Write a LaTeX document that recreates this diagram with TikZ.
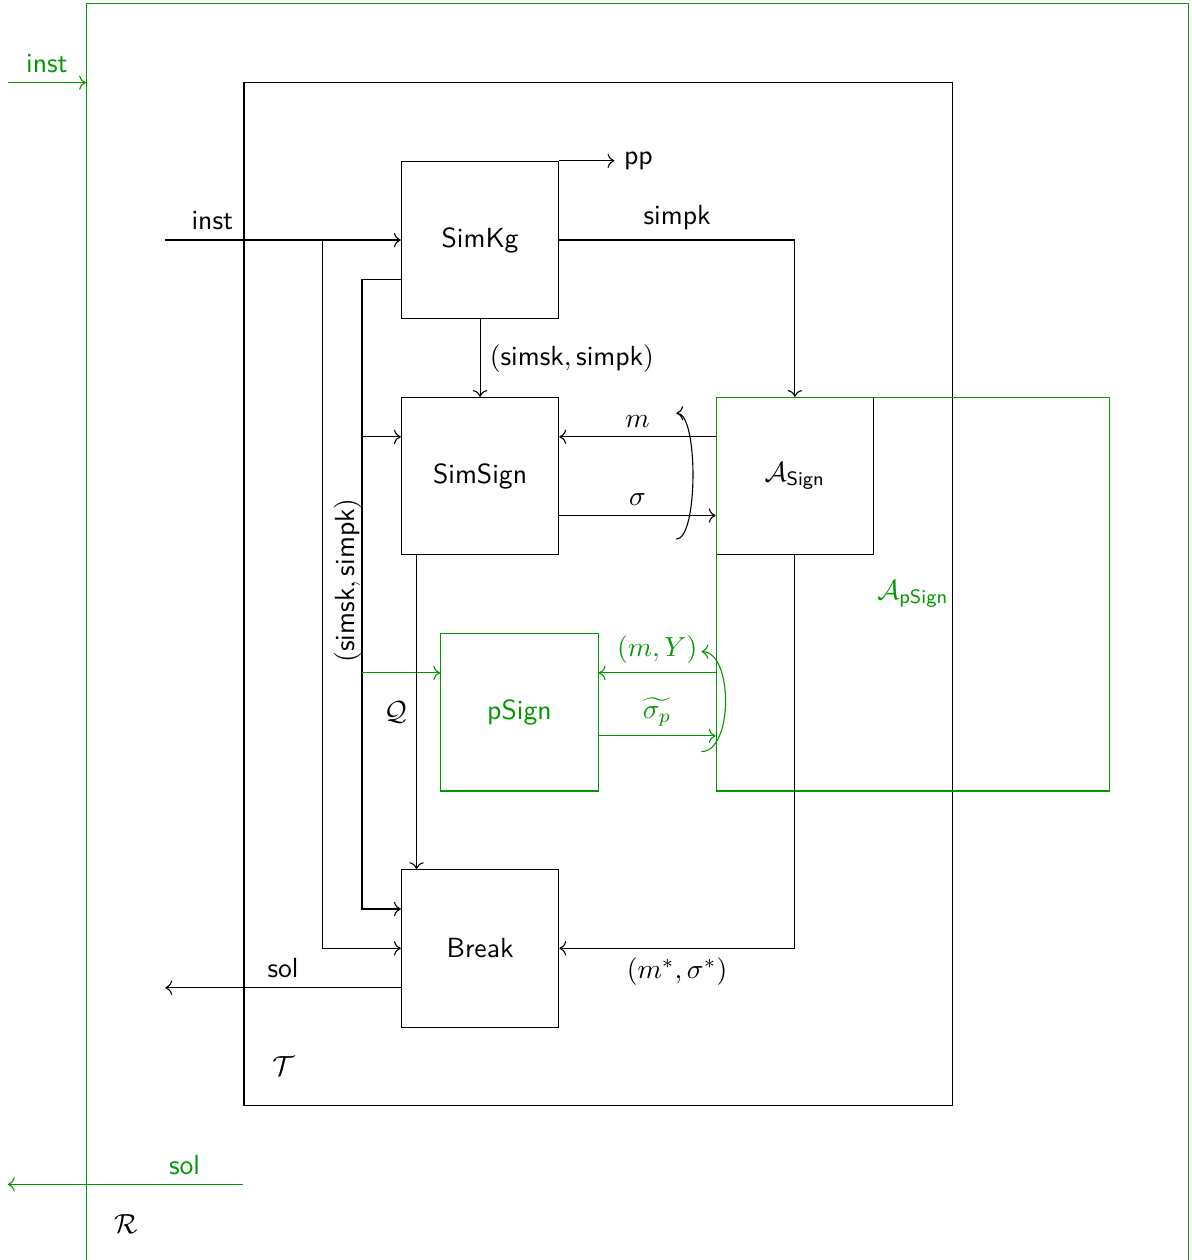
\documentclass[tikz,border=0pt]{standalone}
\usepackage{amsmath,amssymb}
\usepackage{tikz}
\usetikzlibrary{arrows.meta,calc,positioning}
\definecolor{redgreen}{HTML}{009900}

\begin{document}
\begin{tikzpicture}[x=0.5cm, y=-0.5cm, font=\sffamily,
    blk/.style={draw, minimum size=2cm, inner sep=0pt},
    arr/.style={->},
    redn/.style={draw=redgreen, text=redgreen}]
\useasboundingbox (-0.2,-0.1) rectangle (30.07,31.92);
\node[draw=redgreen, minimum width=14cm, minimum height=16.5cm] (rbox) at (16,16.5) {};
\node[draw, minimum width=9cm, minimum height=13cm] (tbox) at (15,15) {};
\node[blk] (kg) at (12,6) {SimKg};
\node[blk] (sign) at (12,12) {SimSign};
\node[blk] (brk) at (12,24) {Break};
\node[blk] (asig) at (20,12) {$\mathcal{A}_{\textsf{Sign}}$};
\node[blk, redn] (psig) at (13,18) {pSign};
\node[redn, minimum size=5cm] (apsig) at (23,15) {$\mathcal{A}_{\textsf{pSign}}$};
\node at (7,27) {$\mathcal{T}$};
\node at (3,31) {$\mathcal{R}$};
\coordinate (in) at (4,6);
\coordinate (out) at (4,25);
\coordinate (split) at (8,6);
\coordinate (bus) at (9,7);
\coordinate (rin) at (0,2);
\coordinate (rout) at (0,30);

\draw[arr] (in) -- node[above, pos=0.2] {inst} (kg);
\draw[arr] (split) |- (brk.west);
\draw[arr] ([yshift=-0.5cm]kg.west) -- (bus) |- ([yshift=0.5cm]brk.west);
\node[rotate=90, anchor=south, inner sep=0pt] at (9,14.65) {$(\textsf{simsk}, \textsf{simpk})$};
\draw[arr] ([yshift=0.5cm]sign.west -| bus) -- ([yshift=0.5cm]sign.west);
\draw[arr, redgreen] ([yshift=0.5cm]psig.west -| bus) -- ([yshift=0.5cm]psig.west);
\draw[arr] (kg) -- node[right] {$(\textsf{simsk}, \textsf{simpk})$} (sign);
\draw[arr] (kg.north east) -- ++(1.4,0) node[right] {pp};
\draw[arr] (kg.east) -| node[above, pos=0.25] {simpk} (asig);
\draw[arr] ([yshift=0.5cm]asig.west) -- node[above] {$m$} ([yshift=0.5cm]sign.east);
\draw[arr] ([yshift=-0.5cm]sign.east) -- node[above] {$\sigma$} ([yshift=-0.5cm]asig.west);
\draw[arr] ([xshift=-0.5cm, yshift=-0.8cm]asig.west) to[out=0, in=0, looseness=0.45] ([xshift=-0.5cm, yshift=0.8cm]asig.west);
\draw[arr, redgreen] ([yshift=0.5cm]psig.east -| asig.west) -- node[above] {$(m,Y)$} ([yshift=0.5cm]psig.east);
\draw[arr, redgreen] ([yshift=-0.3cm]psig.east) -- node[above] {$\widetilde{\sigma_p}$} ([yshift=-0.3cm]psig.east -| asig.west);
\draw[arr, redgreen] ([xshift=-0.18cm, yshift=-0.5cm]psig.east -| asig.west) to[out=0, in=0, looseness=0.82] ([xshift=-0.18cm, yshift=0.77cm]psig.east -| asig.west);
\draw[arr] ([xshift=0.2cm]sign.south west) -- node[left] {$\mathcal{Q}$} ([xshift=0.2cm]brk.north west);
\draw[arr] (asig) |- node[below, pos=0.75] {$(m^*,\sigma^*)$} (brk);
\draw[arr] ([yshift=-0.5cm]brk.west) -- node[above] {sol} (out);
\draw[arr, redgreen] (rin) -- node[above] {inst} (rin -| rbox.west);
\draw[arr, redgreen] (rout -| tbox.west) -- node[above, pos=0.25] {sol} (rout);
\end{tikzpicture}
\end{document}
